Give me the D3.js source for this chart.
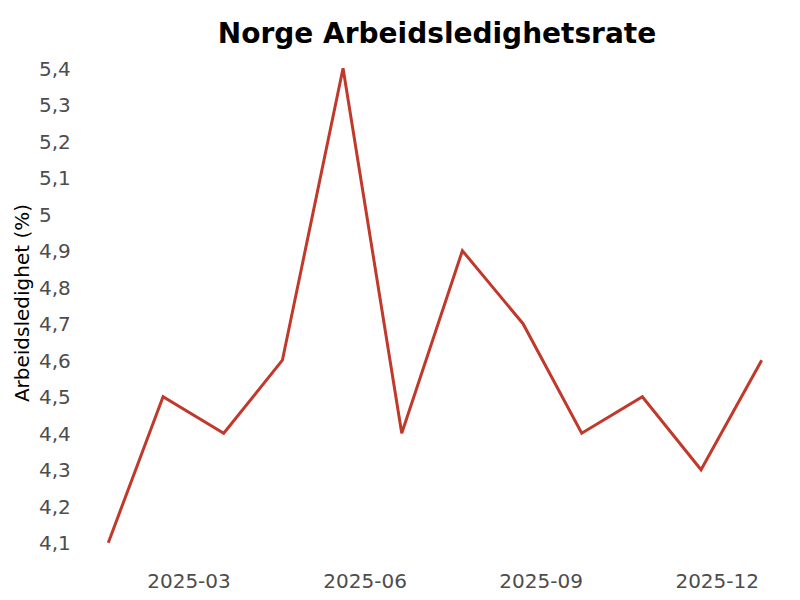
<!DOCTYPE html>
<html>
<head>
<meta charset="utf-8">
<script src="https://cdn.jsdelivr.net/npm/d3@7"></script>
<style>
  html, body { margin: 0; padding: 0; background: #fff; }
  svg { display: block; font-family: "DejaVu Sans", sans-serif; }
</style>
</head>
<body>
<svg id="chart" width="800" height="600"></svg>
<script>
const dates = ["2025-01-31","2025-02-28","2025-03-31","2025-04-30","2025-05-31","2025-06-30",
               "2025-07-31","2025-08-31","2025-09-30","2025-10-31","2025-11-30","2025-12-31"];
const rates = [4.1, 4.5, 4.4, 4.6, 5.4, 4.4, 4.9, 4.7, 4.4, 4.5, 4.3, 4.6];
const xTickDates = ["2025-03-13","2025-06-11","2025-09-09","2025-12-08"];
const yTicks = [4.1,4.2,4.3,4.4,4.5,4.6,4.7,4.8,4.9,5.0,5.1,5.2,5.3,5.4];
const titleText = "Norge Arbeidsledighetsrate";
const yTitleText = "Arbeidsledighet (%)";

const parse = d3.timeParse("%Y-%m-%d");
const data = dates.map((d, i) => ({ date: parse(d), value: rates[i] }));

const svg = d3.select("#chart");
const x = d3.scaleTime()
  .domain(d3.extent(data, d => d.date))
  .range([108.3, 761.7]);
const y = d3.scaleLinear()
  .domain([4.1, 5.4])
  .range([542.7, 68.2]);

const fmtY = d => String(+d.toFixed(1)).replace(".", ",");
const fmtX = d3.timeFormat("%Y-%m");

// Y axis (labels only, left aligned)
const yAxis = svg.append("g")
  .attr("transform", "translate(39,0)")
  .call(d3.axisLeft(y).tickValues(yTicks).tickFormat(fmtY).tickSize(0).tickPadding(0));
yAxis.select(".domain").remove();
yAxis.selectAll("text")
  .attr("text-anchor", "start")
  .attr("x", 0)
  .attr("dy", "0.35em")
  .attr("fill", "#4d4d4d")
  .style("font-size", "20px")
  .style("font-family", "DejaVu Sans, sans-serif");

// X axis
const xAxis = svg.append("g")
  .attr("transform", "translate(0,574)")
  .call(d3.axisBottom(x).tickValues(xTickDates.map(parse)).tickFormat(fmtX).tickSize(0).tickPadding(0));
xAxis.select(".domain").remove();
xAxis.selectAll("text")
  .attr("y", 0)
  .attr("dy", "0.71em")
  .attr("fill", "#4d4d4d")
  .style("font-size", "20px")
  .style("font-family", "DejaVu Sans, sans-serif");

// Line
const line = d3.line()
  .x(d => x(d.date))
  .y(d => y(d.value));
svg.append("path")
  .datum(data)
  .attr("d", line)
  .attr("fill", "none")
  .attr("stroke", "#c0392b")
  .attr("stroke-width", 3)
  .attr("stroke-linejoin", "miter");

// Title
svg.append("text")
  .attr("x", 437)
  .attr("y", 43)
  .attr("text-anchor", "middle")
  .attr("font-weight", "bold")
  .attr("fill", "#000")
  .style("font-size", "28px")
  .text(titleText);

// Y title
svg.append("text")
  .attr("transform", "translate(29,303) rotate(-90)")
  .attr("text-anchor", "middle")
  .attr("fill", "#000")
  .style("font-size", "20px")
  .text(yTitleText);
</script>
</body>
</html>
